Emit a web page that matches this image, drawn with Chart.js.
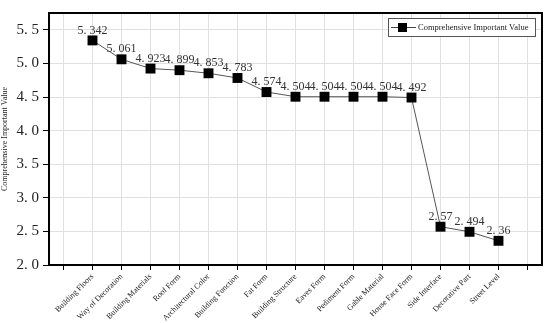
<!DOCTYPE html>
<html>
<head>
<meta charset="utf-8">
<script src="https://cdn.jsdelivr.net/npm/chart.js@4"></script>
<style>
  html, body { margin: 0; padding: 0; background: #fff; }
  #wrap { width: 550px; height: 323px; }
</style>
</head>
<body>
<div id="wrap"><canvas id="chart" width="550" height="323"></canvas></div>
<script>
// categories along the x axis
const categories = ["Building Floors", "Way of Decoration", "Building Materials", "Roof Form",
  "Architectural Color", "Building Function", "Fat Form", "Building Structure", "Eaves Form",
  "Pediment Form", "Gable Material", "House Face Form", "Side Interface", "Decorative Part", "Street Level"];
// comprehensive important values
const importantValues = [5.342, 5.061, 4.923, 4.899, 4.853, 4.783, 4.574, 4.504, 4.504, 4.504, 4.504, 4.492, 2.57, 2.494, 2.36];
const yTicks = [2.0, 2.5, 3.0, 3.5, 4.0, 4.5, 5.0, 5.5];
const seriesName = "Comprehensive Important Value";

const serif = "'Liberation Serif', 'DejaVu Serif', serif";

// "5.342" -> "5. 342" like the original font renders it
function fmt(v) {
  return String(v).replace('.', '. ');
}

// value labels above each point + frame around the plot + legend box
const decorPlugin = {
  id: 'decor',
  afterDatasetsDraw(chart) {
    const ctx = chart.ctx;
    const meta = chart.getDatasetMeta(0);
    ctx.save();
    ctx.font = '12px ' + serif;
    ctx.fillStyle = '#333';
    ctx.textAlign = 'center';
    ctx.textBaseline = 'middle';
    meta.data.forEach((pt, i) => {
      ctx.fillText(fmt(importantValues[i]), pt.x, pt.y - 10);
    });
    ctx.restore();
  },
  afterDraw(chart) {
    const ctx = chart.ctx;
    const a = chart.chartArea;
    ctx.save();
    ctx.strokeStyle = '#000';
    ctx.lineWidth = 2;
    ctx.strokeRect(a.left, a.top, a.right - a.left, a.bottom - a.top);

    // legend
    const lx = a.right - 154, ly = a.top + 5, lw = 147, lh = 18;
    ctx.fillStyle = '#fff';
    ctx.fillRect(lx, ly, lw, lh);
    ctx.strokeStyle = '#555';
    ctx.lineWidth = 1;
    ctx.strokeRect(lx + 0.5, ly + 0.5, lw, lh);
    const cy = ly + lh / 2 + 0.5;
    ctx.strokeStyle = '#444';
    ctx.beginPath();
    ctx.moveTo(lx + 3, cy);
    ctx.lineTo(lx + 28, cy);
    ctx.stroke();
    ctx.fillStyle = '#000';
    ctx.fillRect(lx + 10, cy - 4.5, 9, 9);
    ctx.font = '8.5px ' + serif;
    ctx.fillStyle = '#222';
    ctx.textAlign = 'left';
    ctx.textBaseline = 'middle';
    ctx.fillText(seriesName, lx + 30, cy);
    ctx.restore();
  }
};

new Chart(document.getElementById('chart').getContext('2d'), {
  type: 'line',
  data: {
    datasets: [{
      label: seriesName,
      data: importantValues.map((v, i) => ({ x: i, y: v })),
      borderColor: '#555',
      borderWidth: 1,
      pointStyle: 'rect',
      pointRadius: 7,
      pointBackgroundColor: '#000',
      pointBorderColor: '#000',
      pointBorderWidth: 0,
      tension: 0
    }]
  },
  options: {
    responsive: false,
    animation: false,
    layout: { padding: { top: 6, right: 8, left: 0, bottom: 0 } },
    plugins: {
      legend: { display: false },
      tooltip: { enabled: false }
    },
    scales: {
      x: {
        type: 'linear',
        min: -1.5,
        max: categories.length + 0.5,
        afterBuildTicks: s => {
          const t = [];
          for (let i = -1; i <= categories.length; i++) t.push({ value: i });
          s.ticks = t;
        },
        afterFit: s => { s.height = 58; },
        ticks: {
          autoSkip: false,
          maxRotation: 45,
          minRotation: 45,
          padding: 2,
          color: '#222',
          font: { family: serif, size: 8 },
          callback: v => categories[v] ?? ''
        },
        grid: { color: '#e0e0e0', tickColor: '#000', tickLength: 5 },
        border: { color: '#000', width: 2 }
      },
      y: {
        min: 2,
        max: 5.75,
        afterBuildTicks: s => {
          s.ticks = yTicks.map(v => ({ value: v }));
        },
        afterFit: s => { s.width = 49; },
        title: {
          display: true,
          text: seriesName,
          color: '#222',
          font: { family: serif, size: 8 },
          padding: 0
        },
        ticks: {
          color: '#222',
          padding: 4,
          font: { family: serif, size: 15 },
          callback: v => v.toFixed(1).replace('.', '. ')
        },
        grid: { color: '#e0e0e0', tickColor: '#000', tickLength: 6 },
        border: { color: '#000', width: 2 }
      }
    }
  },
  plugins: [decorPlugin]
});
</script>
</body>
</html>
